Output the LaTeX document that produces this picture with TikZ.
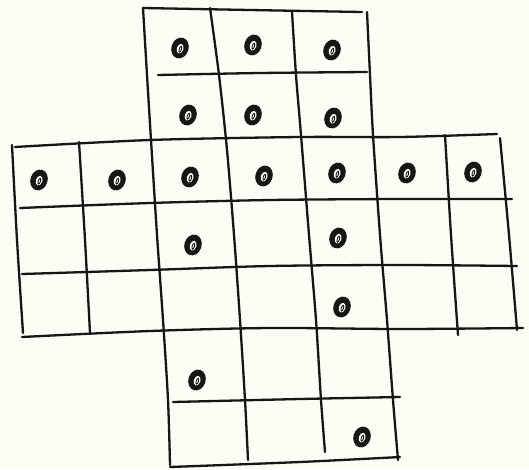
\documentclass[tikz,border=0pt]{standalone}
\usetikzlibrary{calc}
\definecolor{paper}{RGB}{252,251,244}
\definecolor{ink}{RGB}{22,22,20}
\begin{document}
\begin{tikzpicture}[x=1pt,y=-1pt,
  gridline/.style={draw=ink,line width=2.3pt,line cap=round,line join=round},
  peg/.pic={
    \fill[ink,rotate=-18] (0,0) ellipse [x radius=8.6,y radius=10.6];
    \fill[paper,rotate=-18] (0.3,0.6) ellipse [x radius=3.3,y radius=5];
    \draw[ink,line width=0.9pt,rotate=-18] (0.7,1.0) ellipse [x radius=1.1,y radius=3];
  }]
\fill[paper] (0,0) rectangle (529,469);
\useasboundingbox (0,0) rectangle (529,469);
% vertical lines of the vertical arm
\draw[gridline] plot[smooth] coordinates {(143,8) (147,75) (151,140) (157,235) (163,320) (168,400) (170,465)};
\draw[gridline] plot[smooth] coordinates {(210,8) (219,75) (227,150) (234,235) (240,320) (245,400) (248,460)};
\draw[gridline] plot[smooth] coordinates {(292,12) (296,75) (301,135) (309,235) (316,320) (321,400) (325,452)};
\draw[gridline] plot[smooth] coordinates {(367,12) (370,75) (373,135) (380,235) (387,320) (393,400) (398,460)};
% vertical lines of the horizontal arm
\draw[gridline] plot[smooth] coordinates {(12,145) (17,240) (23,333)};
\draw[gridline] plot[smooth] coordinates {(79,142) (85,240) (90,333)};
\draw[gridline] plot[smooth] coordinates {(445,135) (451,235) (458,335)};
\draw[gridline] plot[smooth] coordinates {(500,138) (509,235) (517,330)};
% horizontal lines
\draw[gridline] plot[smooth] coordinates {(143,8) (250,10) (362,12)};
\draw[gridline] plot[smooth] coordinates {(158,75) (260,73) (367,72)};
\draw[gridline] plot[smooth] coordinates {(15,147) (150,140) (300,137) (400,137) (497,134)};
\draw[gridline] plot[smooth] coordinates {(20,208) (150,203) (270,200) (400,199) (512,199)};
\draw[gridline] plot[smooth] coordinates {(22,274) (150,270) (270,266) (400,265) (517,266)};
\draw[gridline] plot[smooth] coordinates {(22,337) (150,331) (270,328) (400,329) (523,328)};
\draw[gridline] plot[smooth] coordinates {(173,402) (300,399) (400,397)};
\draw[gridline] plot[smooth] coordinates {(170,467) (300,462) (400,457)};
% pegs
\foreach \px/\py in {180/48, 253/45, 332/50,
                     188/115, 253/115, 333/118,
                     39/180, 117/180, 190/177, 264/176, 337/173, 407/173, 473/172,
                     193/245, 338/238,
                     342/307,
                     197/380,
                     362/437}
  \pic at (\px,\py) {peg};
\end{tikzpicture}
\end{document}
